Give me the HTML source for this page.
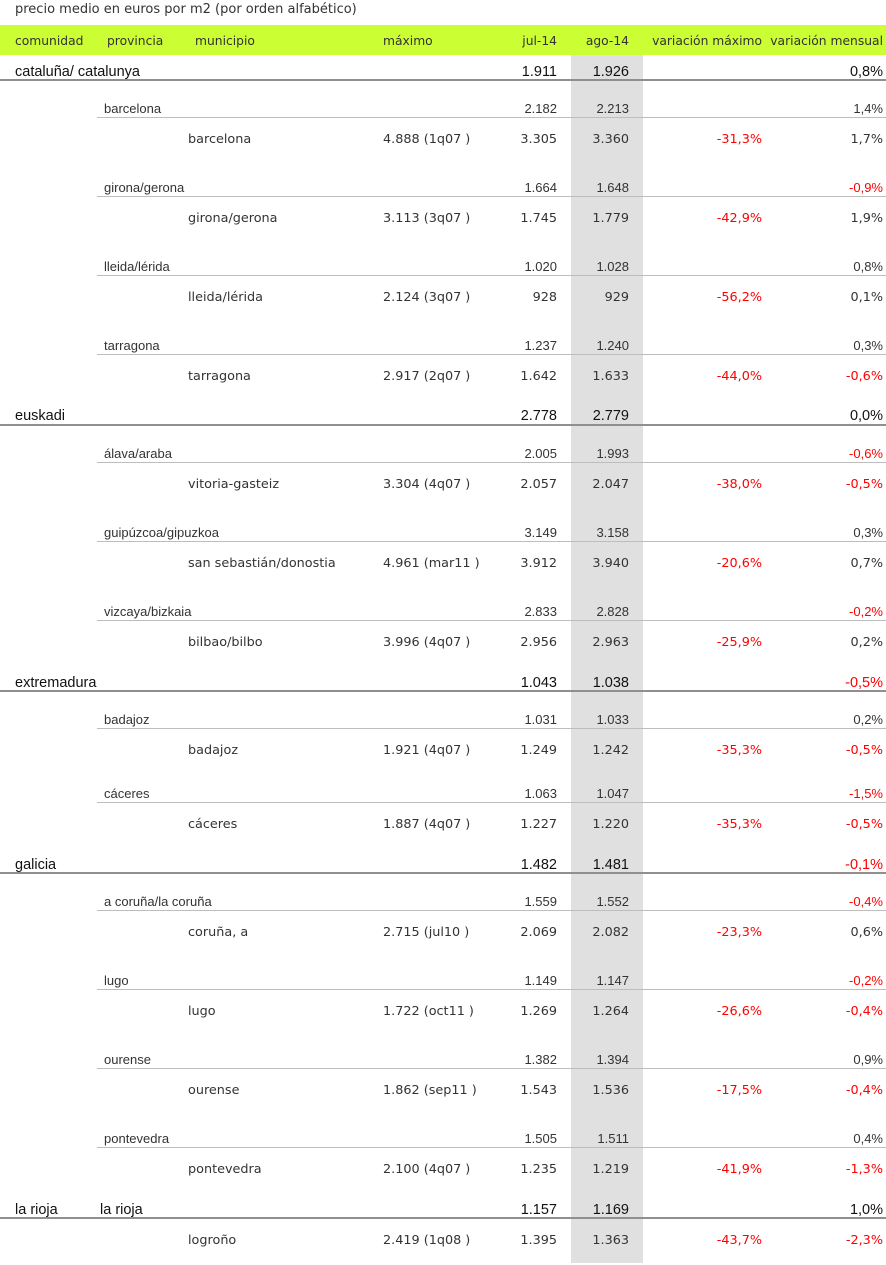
<!DOCTYPE html>
<html><head><meta charset="utf-8">
<style>
*{margin:0;padding:0}
body{width:886px;height:1265px;position:relative;background:#fff;overflow:hidden;font-family:"DejaVu Sans","Liberation Sans",sans-serif;color:#333}
.t{position:absolute;left:15px;top:2px;font-size:13px;line-height:16px}
.hdr{position:absolute;left:0;top:25px;width:886px;height:30px;background:#ccff33}
.hdr span{position:absolute;top:8px;font-size:12.3px;line-height:16px;color:#333;white-space:nowrap}
.gray{position:absolute;left:571px;top:55px;width:72px;height:1208px;background:#e0e0e0}
.r{position:absolute;left:0;width:886px;height:16px;margin-top:1px}
.u{margin-top:2px}
.r span{position:absolute;top:0;line-height:16px;white-space:nowrap}
.c span{font-family:"Liberation Sans",Arial,sans-serif;font-size:14.5px;color:#111}
.p span{font-family:"Liberation Sans",Arial,sans-serif;font-size:13px;color:#333}
.u span{font-size:12.8px;color:#333}
.a{left:15px}.b{left:104px}.c .b{left:100px}.u .b{left:188px}.x{left:383px}
.j{right:329px}.g{right:257px}.v{right:124px}.m{right:3px}
.red{color:#ff0000 !important}
.l1{position:absolute;left:0;width:886px;height:2px;background:#8f8f8f}
.l2{position:absolute;left:97px;width:789px;height:1px;background:#bdbdbd}
</style></head><body>
<div class="t">precio medio en euros por m2 (por orden alfabético)</div>
<div class="hdr">
<span style="left:15px">comunidad</span><span style="left:107px">provincia</span><span style="left:195px">municipio</span><span style="left:383px">máximo</span><span style="right:329px">jul-14</span><span style="right:257px">ago-14</span><span style="right:124px">variación máximo</span><span style="right:3px">variación mensual</span>
</div>
<div class="gray"></div>

<div class="r c" style="top:63px"><span class="a">cataluña/ catalunya</span><span class="j">1.911</span><span class="g">1.926</span><span class="m">0,8%</span></div><div class="l1" style="top:79px"></div>
<div class="r p" style="top:100px"><span class="b">barcelona</span><span class="j">2.182</span><span class="g">2.213</span><span class="m">1,4%</span></div><div class="l2" style="top:117px"></div>
<div class="r u" style="top:130px"><span class="b">barcelona</span><span class="x">4.888 (1q07 )</span><span class="j">3.305</span><span class="g">3.360</span><span class="v red">-31,3%</span><span class="m">1,7%</span></div>
<div class="r p" style="top:179px"><span class="b">girona/gerona</span><span class="j">1.664</span><span class="g">1.648</span><span class="m red">-0,9%</span></div><div class="l2" style="top:196px"></div>
<div class="r u" style="top:209px"><span class="b">girona/gerona</span><span class="x">3.113 (3q07 )</span><span class="j">1.745</span><span class="g">1.779</span><span class="v red">-42,9%</span><span class="m">1,9%</span></div>
<div class="r p" style="top:258px"><span class="b">lleida/lérida</span><span class="j">1.020</span><span class="g">1.028</span><span class="m">0,8%</span></div><div class="l2" style="top:275px"></div>
<div class="r u" style="top:288px"><span class="b">lleida/lérida</span><span class="x">2.124 (3q07 )</span><span class="j">928</span><span class="g">929</span><span class="v red">-56,2%</span><span class="m">0,1%</span></div>
<div class="r p" style="top:337px"><span class="b">tarragona</span><span class="j">1.237</span><span class="g">1.240</span><span class="m">0,3%</span></div><div class="l2" style="top:354px"></div>
<div class="r u" style="top:367px"><span class="b">tarragona</span><span class="x">2.917 (2q07 )</span><span class="j">1.642</span><span class="g">1.633</span><span class="v red">-44,0%</span><span class="m red">-0,6%</span></div>

<div class="r c" style="top:407px"><span class="a">euskadi</span><span class="j">2.778</span><span class="g">2.779</span><span class="m">0,0%</span></div><div class="l1" style="top:424px"></div>
<div class="r p" style="top:445px"><span class="b">álava/araba</span><span class="j">2.005</span><span class="g">1.993</span><span class="m red">-0,6%</span></div><div class="l2" style="top:462px"></div>
<div class="r u" style="top:475px"><span class="b">vitoria-gasteiz</span><span class="x">3.304 (4q07 )</span><span class="j">2.057</span><span class="g">2.047</span><span class="v red">-38,0%</span><span class="m red">-0,5%</span></div>
<div class="r p" style="top:524px"><span class="b">guipúzcoa/gipuzkoa</span><span class="j">3.149</span><span class="g">3.158</span><span class="m">0,3%</span></div><div class="l2" style="top:541px"></div>
<div class="r u" style="top:554px"><span class="b">san sebastián/donostia</span><span class="x">4.961 (mar11 )</span><span class="j">3.912</span><span class="g">3.940</span><span class="v red">-20,6%</span><span class="m">0,7%</span></div>
<div class="r p" style="top:603px"><span class="b">vizcaya/bizkaia</span><span class="j">2.833</span><span class="g">2.828</span><span class="m red">-0,2%</span></div><div class="l2" style="top:620px"></div>
<div class="r u" style="top:633px"><span class="b">bilbao/bilbo</span><span class="x">3.996 (4q07 )</span><span class="j">2.956</span><span class="g">2.963</span><span class="v red">-25,9%</span><span class="m">0,2%</span></div>

<div class="r c" style="top:674px"><span class="a">extremadura</span><span class="j">1.043</span><span class="g">1.038</span><span class="m red">-0,5%</span></div><div class="l1" style="top:690px"></div>
<div class="r p" style="top:711px"><span class="b">badajoz</span><span class="j">1.031</span><span class="g">1.033</span><span class="m">0,2%</span></div><div class="l2" style="top:728px"></div>
<div class="r u" style="top:741px"><span class="b">badajoz</span><span class="x">1.921 (4q07 )</span><span class="j">1.249</span><span class="g">1.242</span><span class="v red">-35,3%</span><span class="m red">-0,5%</span></div>
<div class="r p" style="top:785px"><span class="b">cáceres</span><span class="j">1.063</span><span class="g">1.047</span><span class="m red">-1,5%</span></div><div class="l2" style="top:802px"></div>
<div class="r u" style="top:815px"><span class="b">cáceres</span><span class="x">1.887 (4q07 )</span><span class="j">1.227</span><span class="g">1.220</span><span class="v red">-35,3%</span><span class="m red">-0,5%</span></div>

<div class="r c" style="top:856px"><span class="a">galicia</span><span class="j">1.482</span><span class="g">1.481</span><span class="m red">-0,1%</span></div><div class="l1" style="top:872px"></div>
<div class="r p" style="top:893px"><span class="b">a coruña/la coruña</span><span class="j">1.559</span><span class="g">1.552</span><span class="m red">-0,4%</span></div><div class="l2" style="top:910px"></div>
<div class="r u" style="top:923px"><span class="b">coruña, a</span><span class="x">2.715 (jul10 )</span><span class="j">2.069</span><span class="g">2.082</span><span class="v red">-23,3%</span><span class="m">0,6%</span></div>
<div class="r p" style="top:972px"><span class="b">lugo</span><span class="j">1.149</span><span class="g">1.147</span><span class="m red">-0,2%</span></div><div class="l2" style="top:989px"></div>
<div class="r u" style="top:1002px"><span class="b">lugo</span><span class="x">1.722 (oct11 )</span><span class="j">1.269</span><span class="g">1.264</span><span class="v red">-26,6%</span><span class="m red">-0,4%</span></div>
<div class="r p" style="top:1051px"><span class="b">ourense</span><span class="j">1.382</span><span class="g">1.394</span><span class="m">0,9%</span></div><div class="l2" style="top:1068px"></div>
<div class="r u" style="top:1081px"><span class="b">ourense</span><span class="x">1.862 (sep11 )</span><span class="j">1.543</span><span class="g">1.536</span><span class="v red">-17,5%</span><span class="m red">-0,4%</span></div>
<div class="r p" style="top:1130px"><span class="b">pontevedra</span><span class="j">1.505</span><span class="g">1.511</span><span class="m">0,4%</span></div><div class="l2" style="top:1147px"></div>
<div class="r u" style="top:1160px"><span class="b">pontevedra</span><span class="x">2.100 (4q07 )</span><span class="j">1.235</span><span class="g">1.219</span><span class="v red">-41,9%</span><span class="m red">-1,3%</span></div>

<div class="r c" style="top:1201px"><span class="a">la rioja</span><span class="b">la rioja</span><span class="j">1.157</span><span class="g">1.169</span><span class="m">1,0%</span></div><div class="l1" style="top:1217px"></div>
<div class="r u" style="top:1231px"><span class="b">logroño</span><span class="x">2.419 (1q08 )</span><span class="j">1.395</span><span class="g">1.363</span><span class="v red">-43,7%</span><span class="m red">-2,3%</span></div>
</body></html>
